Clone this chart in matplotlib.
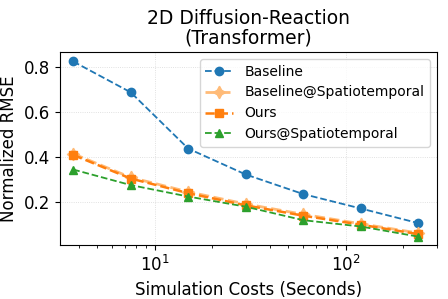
import numpy as np
import matplotlib
matplotlib.use("Agg")
import matplotlib.pyplot as plt

# simulation cost (seconds) and normalized RMSE
costs = [3.75, 7.5, 15, 30, 60, 120, 240]
baseline = [0.825, 0.688, 0.438, 0.323, 0.236, 0.172, 0.107]
baseline_st = [0.415, 0.31, 0.246, 0.192, 0.146, 0.104, 0.063]
ours = [0.41, 0.305, 0.24, 0.186, 0.14, 0.1, 0.058]
ours_st = [0.345, 0.276, 0.225, 0.18, 0.12, 0.092, 0.047]

fig, ax = plt.subplots(figsize=(4.48, 2.99), dpi=100)

ax.plot(costs, baseline, '--o', color='tab:blue', lw=1.3, ms=6, label='Baseline')
ax.plot(costs, baseline_st, '--', marker=(4, 1, 0), color='#ffbb78', lw=2, ms=9,
        label='Baseline@Spatiotemporal')
ax.plot(costs, ours, '--s', color='tab:orange', lw=1.8, ms=6, label='Ours')
ax.plot(costs, ours_st, '--^', color='tab:green', lw=1.3, ms=6, label='Ours@Spatiotemporal')

ax.set_xscale('log')
ax.set_xlim(3.2, 300)
ax.set_ylim(0.009, 0.867)
ax.set_yticks([0.2, 0.4, 0.6, 0.8])
ax.grid(True, ls=':', lw=0.6, alpha=0.5)
ax.tick_params(labelsize=12)
ax.set_xlabel('Simulation Costs (Seconds)', fontsize=12)
ax.set_ylabel('Normalized RMSE', fontsize=12)
ax.set_title('2D Diffusion-Reaction\n(Transformer)', fontsize=13.5, linespacing=1.05)
ax.legend(loc='upper right', fontsize=10, handlelength=2)

fig.subplots_adjust(left=0.134, right=0.975, top=0.826, bottom=0.18)
fig.savefig('out.png')
